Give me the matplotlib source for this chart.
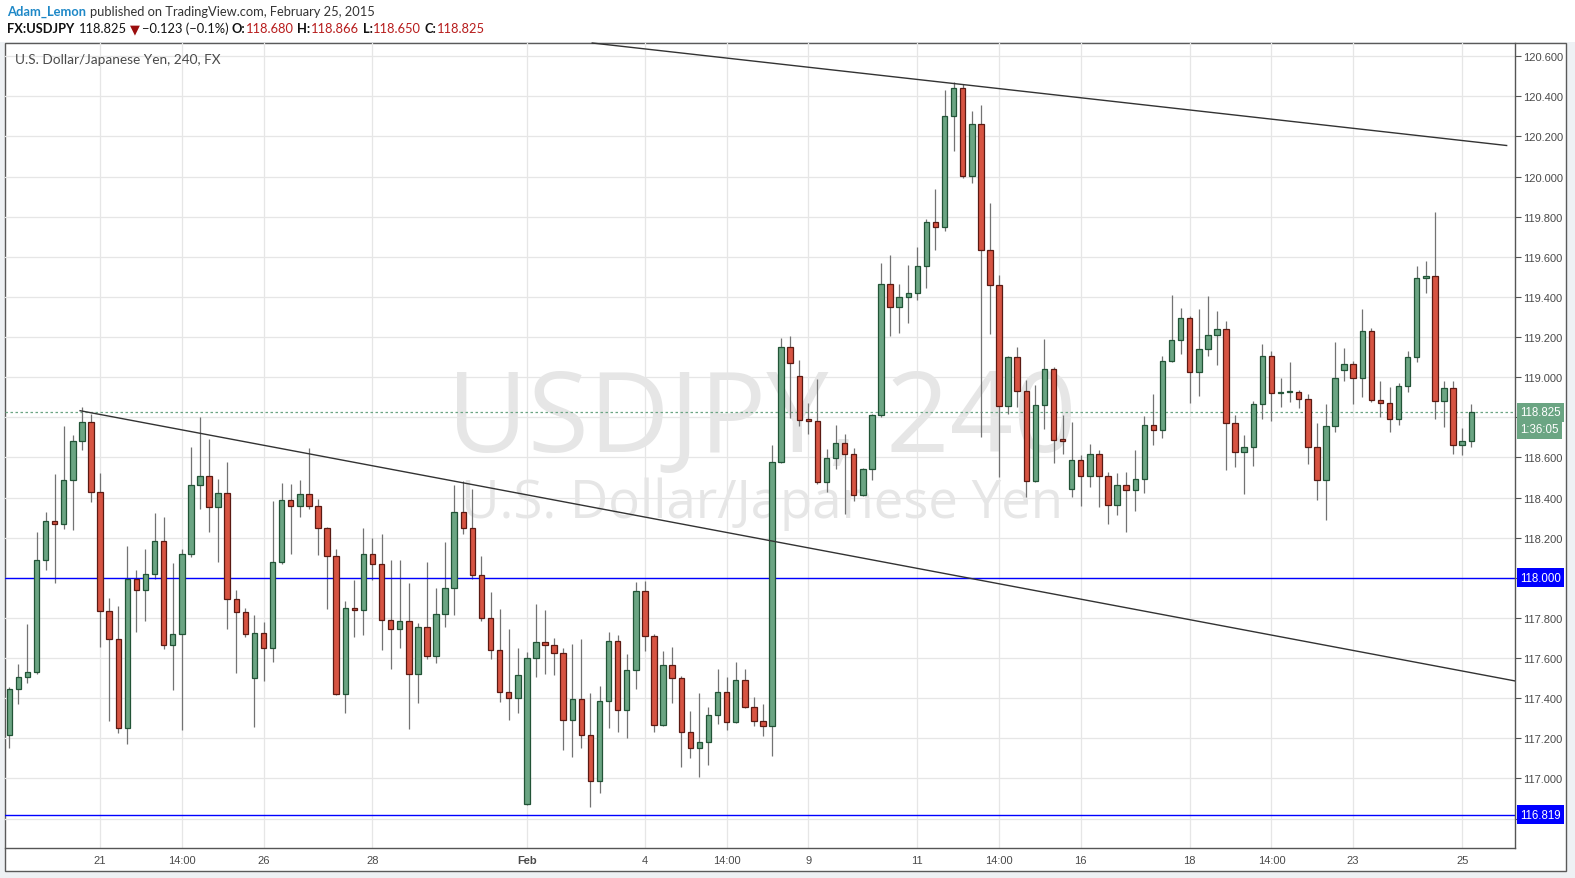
import matplotlib
matplotlib.use("Agg")
import matplotlib.pyplot as plt
import matplotlib.transforms as mtransforms
from matplotlib.patches import Rectangle
import numpy as np

# USD/JPY 4h candles, oldest first
opens = [117.216, 117.445, 117.505, 117.530, 118.088, 118.282, 118.267, 118.487, 118.681, 118.776,
         118.427, 117.834, 117.694, 117.251, 117.995, 117.939, 118.018, 118.183, 117.664, 117.719,
         118.118, 118.462, 118.507, 118.352, 118.422, 117.894, 117.829, 117.500, 117.724, 117.650,
         118.078, 118.387, 118.360, 118.417, 118.360, 118.248, 118.108, 117.420, 117.849, 117.839,
         118.118, 118.068, 117.789, 117.746, 117.786, 117.522, 117.756, 117.611, 117.821, 117.950,
         118.329, 118.246, 118.015, 117.801, 117.641, 117.432, 117.402, 116.874, 117.601, 117.681,
         117.666, 117.626, 117.292, 117.397, 117.216, 116.988, 117.385, 117.684, 117.341, 117.540,
         117.934, 117.709, 117.266, 117.565, 117.500, 117.229, 117.150, 117.181, 117.316, 117.430,
         117.281, 117.490, 117.357, 117.286, 117.261, 118.576, 119.150, 119.005, 118.790, 118.780,
         118.476, 118.598, 118.671, 118.616, 118.412, 118.541, 118.810, 119.463, 119.349, 119.398,
         119.418, 119.553, 119.772, 119.747, 120.300, 120.440, 120.001, 120.260, 119.633, 119.458,
         118.855, 119.102, 118.933, 118.481, 118.863, 119.043, 118.689, 118.445, 118.589, 118.509,
         118.619, 118.509, 118.365, 118.464, 118.440, 118.494, 118.763, 118.739, 119.082, 119.187,
         119.297, 119.028, 119.139, 119.209, 119.239, 118.770, 118.626, 118.651, 118.865, 119.104,
         118.920, 118.925, 118.928, 118.890, 118.651, 118.486, 118.755, 119.035, 119.064, 118.995,
         119.229, 118.885, 118.870, 118.790, 118.955, 119.100, 119.495, 119.504, 118.880, 118.945,
         118.660, 118.680]
highs = [117.457, 117.571, 117.771, 118.229, 118.329, 118.518, 118.757, 118.713, 118.849, 118.816,
         118.522, 117.900, 117.857, 118.159, 118.040, 118.145, 118.324, 118.304, 118.075, 118.143,
         118.653, 118.802, 118.693, 118.493, 118.578, 117.940, 117.850, 117.814, 117.781, 118.383,
         118.473, 118.467, 118.488, 118.646, 118.394, 118.254, 118.145, 117.885, 117.990, 118.248,
         118.199, 118.216, 118.088, 118.088, 117.972, 117.777, 118.080, 117.947, 118.176, 118.463,
         118.485, 118.445, 118.111, 117.927, 117.842, 117.743, 117.650, 117.630, 117.867, 117.837,
         117.698, 117.651, 117.671, 117.696, 117.424, 117.462, 117.731, 117.714, 117.620, 117.978,
         117.985, 117.721, 117.636, 117.656, 117.510, 117.337, 117.427, 117.357, 117.543, 117.507,
         117.581, 117.543, 117.407, 117.372, 118.664, 119.194, 119.206, 119.084, 118.872, 118.993,
         118.644, 118.762, 118.719, 118.647, 118.545, 118.819, 119.569, 119.608, 119.465, 119.559,
         119.649, 119.789, 119.938, 120.432, 120.471, 120.460, 120.327, 120.357, 119.868, 119.508,
         119.107, 119.149, 118.984, 118.963, 119.189, 119.052, 118.810, 118.775, 118.614, 118.665,
         118.635, 118.526, 118.521, 118.526, 118.636, 118.805, 118.915, 119.104, 119.408, 119.343,
         119.303, 119.339, 119.403, 119.330, 119.280, 118.812, 118.711, 118.882, 119.164, 119.131,
         118.996, 119.076, 118.935, 118.917, 118.774, 118.867, 119.176, 119.146, 119.081, 119.340,
         119.245, 118.983, 118.951, 118.971, 119.133, 119.555, 119.580, 119.825, 118.981, 118.981,
         118.748, 118.866]
lows = [117.154, 117.369, 117.478, 117.520, 118.037, 117.972, 118.244, 118.239, 118.635, 118.379,
        117.653, 117.284, 117.224, 117.169, 117.731, 117.787, 117.995, 117.643, 117.439, 117.241,
        118.105, 118.341, 118.226, 118.081, 117.743, 117.523, 117.703, 117.254, 117.488, 117.578,
        118.071, 118.121, 118.301, 118.341, 118.116, 117.842, 117.414, 117.324, 117.703, 117.713,
        117.987, 117.640, 117.547, 117.650, 117.246, 117.375, 117.596, 117.575, 117.754, 117.814,
        118.218, 117.993, 117.784, 117.595, 117.380, 117.291, 117.326, 116.869, 117.505, 117.520,
        117.515, 117.141, 117.106, 117.154, 116.859, 116.925, 117.249, 117.229, 117.199, 117.444,
        117.635, 117.229, 117.260, 117.374, 117.058, 117.100, 117.008, 117.065, 117.269, 117.239,
        117.275, 117.350, 117.261, 117.209, 117.110, 118.570, 118.799, 118.757, 118.719, 118.470,
        118.428, 118.540, 118.320, 118.385, 118.410, 118.490, 118.800, 119.207, 119.221, 119.272,
        119.387, 119.447, 119.636, 119.731, 120.129, 119.995, 119.968, 118.704, 119.214, 118.503,
        118.818, 118.851, 118.403, 118.478, 118.744, 118.572, 118.617, 118.403, 118.358, 118.453,
        118.353, 118.268, 118.313, 118.230, 118.333, 118.423, 118.662, 118.697, 119.075, 119.116,
        118.871, 118.905, 119.108, 119.063, 118.535, 118.554, 118.420, 118.559, 118.794, 118.784,
        118.853, 118.878, 118.844, 118.569, 118.390, 118.290, 118.729, 118.983, 118.868, 118.903,
        118.875, 118.802, 118.728, 118.763, 118.925, 119.078, 119.422, 118.790, 118.750, 118.619,
        118.614, 118.650]
closes = [117.445, 117.505, 117.530, 118.088, 118.282, 118.267, 118.487, 118.681, 118.776, 118.427,
          117.834, 117.694, 117.251, 117.995, 117.939, 118.018, 118.183, 117.664, 117.719, 118.118,
          118.462, 118.507, 118.352, 118.422, 117.894, 117.829, 117.719, 117.724, 117.650, 118.078,
          118.387, 118.360, 118.417, 118.360, 118.248, 118.108, 117.420, 117.849, 117.839, 118.118,
          118.068, 117.789, 117.746, 117.786, 117.522, 117.756, 117.611, 117.821, 117.950, 118.329,
          118.246, 118.015, 117.801, 117.641, 117.432, 117.402, 117.517, 117.601, 117.681, 117.666,
          117.626, 117.292, 117.397, 117.216, 116.988, 117.385, 117.684, 117.341, 117.540, 117.934,
          117.709, 117.266, 117.565, 117.500, 117.229, 117.150, 117.181, 117.316, 117.430, 117.281,
          117.490, 117.357, 117.286, 117.261, 118.576, 119.150, 119.073, 118.785, 118.780, 118.476,
          118.598, 118.671, 118.616, 118.412, 118.541, 118.810, 119.463, 119.349, 119.398, 119.418,
          119.553, 119.772, 119.747, 120.300, 120.440, 120.001, 120.260, 119.633, 119.458, 118.855,
          119.102, 118.933, 118.481, 118.863, 119.043, 118.689, 118.684, 118.589, 118.509, 118.619,
          118.509, 118.365, 118.464, 118.440, 118.494, 118.763, 118.739, 119.082, 119.187, 119.297,
          119.028, 119.139, 119.209, 119.239, 118.770, 118.626, 118.651, 118.865, 119.104, 118.920,
          118.925, 118.928, 118.890, 118.651, 118.486, 118.755, 118.995, 119.064, 118.995, 119.229,
          118.885, 118.870, 118.790, 118.955, 119.100, 119.495, 119.504, 118.880, 118.945, 118.660,
          118.680, 118.825]

# date labels sit on these candle indices
tick_idx = [10, 19, 28, 40, 57, 70, 79, 88, 100, 109, 118, 130, 139, 148, 160]
tick_text = ['21', '14:00', '26', '28', 'Feb', '4', '14:00', '9', '11', '14:00', '16', '18', '14:00', '23', '25']
price_ticks = [116.8, 117.0, 117.2, 117.4, 117.6, 117.8, 118.0, 118.2, 118.4, 118.6,
               118.8, 119.0, 119.2, 119.4, 119.6, 119.8, 120.0, 120.2, 120.4, 120.6]
# tick labels hidden behind the price boxes
hidden_ticks = [116.8, 118.0, 118.8]

# drawn horizontal levels and trend lines (candle index, price)
levels = [118.000, 116.819]
upper_trend_x = [64.2, 164.9]
upper_trend_y = [120.666, 120.155]
lower_trend_x = [7.8, 165.8]
lower_trend_y = [118.833, 117.486]

last_price = 118.825
countdown = '1:36:05'

W, H = 1575, 879
GREEN, GREEN_EDGE = '#6ba583', '#225437'
RED, RED_EDGE = '#d75442', '#5b1a13'
AXIS_FONT = ['Liberation Sans', 'DejaVu Sans']
HEAD_FONT = ['Lato', 'DejaVu Sans']

fig = plt.figure(figsize=(W / 100, H / 100), dpi=100, facecolor='#eef1f4')
# header strip and chart frame
fig.add_artist(Rectangle((0, 1 - 43 / H), 1, 43 / H, transform=fig.transFigure,
                         facecolor='white', edgecolor='none', zorder=-2))
fig.add_artist(Rectangle((5 / W, 1 - 872 / H), (1566 - 5) / W, (872 - 44) / H,
                         transform=fig.transFigure, facecolor='white',
                         edgecolor='#5a5a5a', lw=1, zorder=-1))

ax = fig.add_axes([5 / W, 1 - 849 / H, 1510 / W, 805 / H])
ax.patch.set_visible(False)
ax.set_xlim(-0.47, 165.82)
ax.set_ylim(116.653, 120.666)

# watermark
ax.text(0.501, 0.529, 'USDJPY, 240', transform=ax.transAxes, ha='center', va='center',
        fontsize=80, color='#e6e6e6', family=['Open Sans', 'DejaVu Sans'], zorder=0)
ax.text(0.501, 0.428, 'U.S. Dollar/Japanese Yen', transform=ax.transAxes, ha='center',
        va='center', fontsize=38, color='#e6e6e6', family=['Open Sans', 'DejaVu Sans'], zorder=0)

ax.text(10 / 1510, 1 - 16 / 805, 'U.S. Dollar/Japanese Yen, 240, FX', transform=ax.transAxes,
        ha='left', va='center', fontsize=9.8, color='#4a4a4a', family=HEAD_FONT, zorder=6)

o = np.array(opens)
hi = np.array(highs)
lo = np.array(lows)
c = np.array(closes)
x = np.arange(len(o))
up = c >= o
bottom = np.minimum(o, c)
height = np.maximum(np.abs(c - o), 0.006)

ax.vlines(x, lo, hi, color='#737373', lw=0.9, zorder=2)
ax.bar(x[up], height[up], bottom=bottom[up], width=0.6, color=GREEN,
       edgecolor=GREEN_EDGE, lw=0.9, zorder=3)
ax.bar(x[~up], height[~up], bottom=bottom[~up], width=0.6, color=RED,
       edgecolor=RED_EDGE, lw=0.9, zorder=3)

for v in levels:
    ax.axhline(v, color='#0000ff', lw=1.0, zorder=2.5)
ax.axhline(last_price, color=GREEN, lw=0.9, ls=(0, (2, 2)), zorder=1.5)
ax.plot(upper_trend_x, upper_trend_y, color='#333333', lw=1.0, zorder=4, clip_on=False)
ax.plot(lower_trend_x, lower_trend_y, color='#333333', lw=1.0, zorder=4)

# axes styling
ax.grid(True, color='#e6e6e6', lw=0.9, zorder=0.5)
ax.set_axisbelow(True)
for side in ['top', 'left']:
    ax.spines[side].set_visible(False)
for side in ['right', 'bottom']:
    ax.spines[side].set_color('#555555')
    ax.spines[side].set_linewidth(1.0)

ax.yaxis.tick_right()
ax.set_yticks(price_ticks,
              ['' if any(abs(t - h) < 1e-6 for h in hidden_ticks) else '%.3f' % t
               for t in price_ticks])
ax.tick_params(axis='y', length=4, width=0.8, color='#555555', labelsize=8,
               labelcolor='#4a4a4a', pad=2)
ax.set_xticks(tick_idx, tick_text)
ax.tick_params(axis='x', length=0, labelsize=8, labelcolor='#4a4a4a', pad=5)
for lab in ax.get_xticklabels() + ax.get_yticklabels():
    lab.set_family(AXIS_FONT)
for lab in ax.get_xticklabels():
    if lab.get_text() == 'Feb':
        lab.set_fontweight('bold')

# price boxes on the right scale
blend = mtransforms.blended_transform_factory(ax.transAxes, ax.transData)
box_x = 1 + 5 / 1510


def price_box(value, text, color, dy=0):
    ax.annotate(text, xy=(box_x, value), xycoords=blend, xytext=(0, dy),
                textcoords='offset pixels', ha='left', va='center', fontsize=8.3,
                color='white', family=AXIS_FONT, annotation_clip=False, zorder=10,
                bbox=dict(boxstyle='square,pad=0.3', facecolor=color, edgecolor='none'))


price_box(levels[0], '%.3f' % levels[0], '#0000ff')
price_box(levels[1], '%.3f' % levels[1], '#0000ff')
price_box(last_price, '%.3f' % last_price, GREEN)
price_box(last_price, countdown, GREEN, dy=-17)

# header lines, pieces chained left to right
renderer = fig.canvas.get_renderer()


def chain(parts, x0, y):
    xpos = x0
    for s, color, weight, gap in parts:
        t = fig.text(xpos / W, 1 - y / H, s, color=color, fontweight=weight, fontsize=9.3,
                     family=HEAD_FONT, ha='left', va='center')
        bb = t.get_window_extent(renderer=renderer)
        xpos = bb.x1 + gap


chain([('Adam_Lemon', '#1e88c7', 'bold', 4),
       ('published on TradingView.com, February 25, 2015', '#333333', 'normal', 0)], 7, 12)
chain([('FX:USDJPY', '#111111', 'bold', 5),
       ('%.3f' % last_price, '#111111', 'normal', 3),
       ('\u25bc', '#9b0d0d', 'normal', 2),
       ('\u22120.123 (\u22120.1%)', '#111111', 'normal', 3),
       ('O:', '#111111', 'bold', 0), ('%.3f' % opens[-1], '#b71c1c', 'normal', 4),
       ('H:', '#111111', 'bold', 0), ('%.3f' % highs[-1], '#b71c1c', 'normal', 4),
       ('L:', '#111111', 'bold', 0), ('%.3f' % lows[-1], '#b71c1c', 'normal', 4),
       ('C:', '#111111', 'bold', 0), ('%.3f' % closes[-1], '#b71c1c', 'normal', 0)], 7, 29)

fig.savefig('out.png', dpi=100, facecolor=fig.get_facecolor())
